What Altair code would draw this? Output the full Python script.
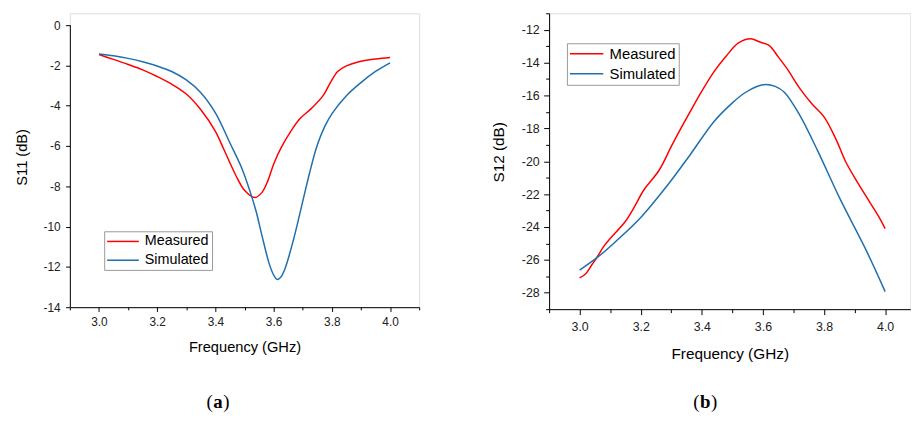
import altair as alt
import pandas as pd

# ---------------- data ----------------
# (a) S11
s11_meas_freq = [3.00, 3.05, 3.10, 3.15, 3.20, 3.25, 3.30, 3.35, 3.40, 3.43, 3.47, 3.50,
                 3.535, 3.56, 3.58, 3.60, 3.625, 3.66, 3.69, 3.73, 3.77, 3.795, 3.82,
                 3.85, 3.89, 3.95, 4.00]
s11_meas = [-1.46, -1.70, -1.95, -2.22, -2.55, -2.93, -3.42, -4.20, -5.27, -6.20, -7.45, -8.20,
            -8.56, -8.30, -7.73, -6.90, -6.10, -5.25, -4.65, -4.13, -3.50, -2.85, -2.30,
            -2.02, -1.83, -1.68, -1.60]
s11_sim_freq = [3.00, 3.05, 3.10, 3.15, 3.20, 3.25, 3.30, 3.35, 3.40, 3.45, 3.49, 3.52,
                3.54, 3.56, 3.585, 3.60, 3.612, 3.625, 3.64, 3.67, 3.70, 3.725, 3.75,
                3.775, 3.80, 3.85, 3.90, 3.95, 4.00]
s11_sim = [-1.43, -1.52, -1.65, -1.82, -2.03, -2.30, -2.72, -3.35, -4.35, -5.85, -7.08, -8.30,
           -9.25, -10.45, -11.85, -12.40, -12.62, -12.50, -12.05, -10.55, -8.75, -7.25, -5.95,
           -5.05, -4.40, -3.50, -2.85, -2.30, -1.87]

# (b) S12
s12_meas_freq = [3.00, 3.02, 3.04, 3.06, 3.08, 3.10, 3.15, 3.18, 3.21, 3.26, 3.30, 3.33,
                 3.36, 3.39, 3.44, 3.48, 3.52, 3.56, 3.59, 3.62, 3.65, 3.68, 3.72, 3.76,
                 3.80, 3.84, 3.87, 3.91, 3.95, 3.98, 4.00]
s12_meas = [-27.10, -26.85, -26.30, -25.75, -25.15, -24.70, -23.65, -22.75, -21.75, -20.55,
            -19.10, -18.05, -17.05, -16.05, -14.55, -13.60, -12.80, -12.55, -12.75, -12.95,
            -13.65, -14.40, -15.55, -16.50, -17.30, -18.70, -20.00, -21.30, -22.50, -23.40,
            -24.10]
s12_sim_freq = [3.00, 3.06, 3.12, 3.20, 3.29, 3.36, 3.44, 3.50, 3.54, 3.58, 3.61, 3.64,
                3.67, 3.72, 3.78, 3.85, 3.94, 4.00]
s12_sim = [-26.62, -25.82, -24.85, -23.42, -21.40, -19.65, -17.58, -16.45, -15.85, -15.45,
           -15.33, -15.45, -15.80, -17.18, -19.40, -22.20, -25.50, -27.93]

series_names = ["Measured", "Simulated"]
series_colors = ["#ff0000", "#1f6fae"]

# left y-axis line runs over the labelled range only
s11_axis_range = [-14, 0]

FONT = "Liberation Sans"
SERIF = "Liberation Serif"


def long_df(fm, vm, fs, vs):
    rows = [{"f": f, "v": v, "series": series_names[0]} for f, v in zip(fm, vm)]
    rows += [{"f": f, "v": v, "series": series_names[1]} for f, v in zip(fs, vs)]
    return pd.DataFrame(rows)


def cond(test, major, minor):
    return {"condition": {"test": test, "value": major}, "value": minor}


XMAJ = "round(datum.value*10) % 2 == 0"
YMAJ = "datum.value % 2 == 0"


def panel(df, c):
    x_axis = alt.Axis(
        values=c["xvals"], title="Frequency (GHz)",
        labelExpr=f"{XMAJ} ? format(datum.value, '.1f') : ''",
        tickSize=cond(XMAJ, c["maj"], c["minr"]),
        labelFontSize=cond(XMAJ, c["lfs"], 0),
        labelPadding=c["xlp"], titlePadding=c["xtp"],
        labelFont=FONT, labelColor="#222", titleFont=FONT, titleFontSize=c["tfs"],
        titleFontWeight="normal", titleColor="black", domainColor="black",
        tickColor="black", grid=False, labelFlush=False, labelOverlap=False,
    )
    y_axis = alt.Axis(
        values=c["yvals"], title=c["ytitle"],
        labelExpr=f"{YMAJ} ? ((datum.value < 0 ? '-' : '') + format(abs(datum.value), 'd')) : ''",
        tickSize=cond(YMAJ, c["maj"], c["minr"]),
        labelFontSize=cond(YMAJ, c["lfs"], 0),
        labelPadding=c["ylp"], titleX=c["ytx"], titleY=c["yty"],
        labelFont=FONT, labelColor="#222", titleFont=FONT, titleFontSize=c["tfs"],
        titleFontWeight="normal", titleColor="black", domain=c["ydomainline"],
        domainColor="black", tickColor="black", grid=False, labelFlush=False,
        labelOverlap=False,
    )
    legend = alt.Legend(
        title=None, orient="none", legendX=c["lx"], legendY=c["ly"],
        symbolType="M-3,0L3,0", symbolSize=c["ssize"], symbolStrokeWidth=1.5,
        symbolOffset=c["soff"], labelOffset=c["loff"], labelFont=FONT,
        labelFontSize=c["legfs"], labelColor="black", padding=3, rowPadding=c["rowpad"],
        strokeColor="#999", fillColor="white",
    )
    lines = alt.Chart(df).mark_line(strokeWidth=1.5, interpolate="catmull-rom").encode(
        x=alt.X("f:Q", scale=alt.Scale(domain=c["xdom"], nice=False, zero=False), axis=x_axis),
        y=alt.Y("v:Q", scale=alt.Scale(domain=c["ydom"], nice=False, zero=False), axis=y_axis),
        color=alt.Color("series:N", scale=alt.Scale(domain=series_names, range=series_colors),
                        legend=legend),
        order=alt.Order("series:N"),
    )
    one = pd.DataFrame({"k": [0]})
    layers = [lines]
    if c["axisline"] is not None:
        lo, hi = c["axisline"]
        layers.append(alt.Chart(one).mark_rule(color="black", strokeWidth=1).encode(
            x=alt.value(0.5), y=alt.datum(lo), y2=alt.datum(hi)))
    cx, cy, letter, half = c["cap"]
    layers.append(alt.Chart(one).mark_text(text="(", font=SERIF, fontSize=19, align="right",
                                           baseline="alphabetic", color="black").encode(
        x=alt.value(cx - half - 0.5), y=alt.value(cy)))
    layers.append(alt.Chart(one).mark_text(text=letter, font=SERIF, fontSize=19, fontWeight="bold",
                                           align="center", baseline="alphabetic", color="black").encode(
        x=alt.value(cx), y=alt.value(cy)))
    layers.append(alt.Chart(one).mark_text(text=")", font=SERIF, fontSize=19, align="left",
                                           baseline="alphabetic", color="black").encode(
        x=alt.value(cx + half + 0.5), y=alt.value(cy)))
    return alt.layer(*layers).properties(width=c["w"], height=c["h"])


xvals = [round(2.9 + 0.1 * i, 1) for i in range(13)]

left_cfg = dict(
    xdom=[2.9, 4.1], ydom=[-14, 0.5895], xvals=xvals, yvals=list(range(-14, 1)),
    ytitle="S11 (dB)", w=353, h=297, maj=4.3, minr=2.7, lfs=12, tfs=14.8,
    xlp=5.5, xtp=11.5, ylp=5.5, ytx=-41, yty=145.1, ydomainline=False,
    axisline=s11_axis_range,
    lx=34.7, ly=220.3, ssize=114, soff=8.75, loff=14.8, legfs=14.5, rowpad=4,
    cap=(149.7, 399.3, "a", 4.75),
)
right_cfg = dict(
    xdom=[2.9, 4.0824], ydom=[-29, -11], xvals=xvals[:-1], yvals=list(range(-29, -10)),
    ytitle="S12 (dB)", w=365, h=299, maj=5.5, minr=3.5, lfs=12.5, tfs=15.5,
    xlp=6, xtp=13.5, ylp=4.5, ytx=-43.3, yty=140, ydomainline=True,
    axisline=None,
    lx=18, ly=30.3, ssize=126, soff=9.4, loff=15.7, legfs=15, rowpad=4.3,
    cap=(157.7, 399.3, "b", 5.3),
)

df11 = long_df(s11_meas_freq, s11_meas, s11_sim_freq, s11_sim)
df12 = long_df(s12_meas_freq, s12_meas, s12_sim_freq, s12_sim)

chart = alt.concat(
    panel(df11, left_cfg), panel(df12, right_cfg), columns=2, spacing=71.3
).resolve_scale(color="independent").resolve_legend(color="independent").properties(
    padding={"left": 5.5, "top": 2.2, "right": 0, "bottom": 0},
    background="white",
).configure_view(stroke=None).configure(font=FONT)

chart.save("out.html", embed_options={"renderer": "svg", "actions": False})
